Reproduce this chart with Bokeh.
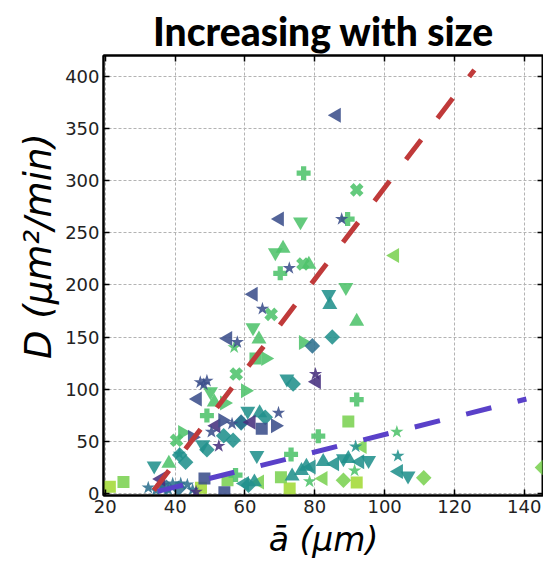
import math
from bokeh.plotting import figure
from bokeh.models import Range1d, LinearAxis, SingleIntervalTicker
from bokeh.embed import file_html
from bokeh.resources import INLINE

# ---------------- data ----------------
x_ticks_interval = 20
y_ticks_interval = 50

# dark blue
db_star_x = [87.7, 72.7, 65.0, 57.8, 47.2, 49.1, 48.2, 50.4, 56.3, 69.6]
db_star_y = [263, 216, 177, 145, 106.6, 108, 104.5, 59, 66.8, 77.3]
db_left_x = [86.2, 69.9, 62.4, 55.1, 46.4]
db_left_y = [362.6, 263, 191, 148.5, 90.6]
db_right_x = [53.6, 68.7, 44.9]
db_right_y = [70, 65, 54]
db_square_x = [64.8, 48.4, 54.1]
db_square_y = [62, 14.3, 1.2]

# purple
pu_star_x = [80.2, 52.5, 46.0]
pu_star_y = [114.5, 45.5, 1.6]
pu_left_x = [80.5, 51.7, 61.8, 35.9]
pu_left_y = [107, 65, 68.4, 14]

# dark teal
dt_diamond_x = [79.3, 58.9, 37.5, 41.0]
dt_diamond_y = [141.5, 68.4, 6, 5]
dt_star_x = [32.3, 34.5, 36.4, 38.0, 39.3, 41.6, 43.5, 45.0]
dt_star_y = [5.5, 3, 8, 4, 9.5, 9.5, 8.5, 3.5]

# teal
te_down_x = [84.0, 60.8, 47.9, 34.0, 63.4, 106.7, 95.4, 88.2, 72.0]
te_down_y = [191, 79, 46.8, 26.5, 36.5, 17, 31.8, 33.4, 110]
te_up_x = [84.3, 64.2, 89.6, 82.4, 73.5, 62.7, 77.6, 76.2]
te_up_y = [181, 77.3, 33.4, 30.5, 16.7, 11, 26, 22]
te_left_x = [104.0, 92.9, 85.7, 79.0, 59.9]
te_left_y = [21, 30.5, 28.6, 25.5, 9.5]
te_diamond_x = [85.0, 65.8, 53.9, 56.6, 49.1, 43.0, 41.3, 73.8, 58.9, 61.0]
te_diamond_y = [150, 73, 55.4, 51, 42, 30, 37, 105, 67.7, 8]
te_star_x = [91.7, 103.8, 41.2]
te_star_y = [45, 36, 38]

# green
gr_plus_x = [76.8, 89.4, 70.1, 49.1, 92.0, 81.0, 73.2, 57.3]
gr_plus_y = [307, 263, 211, 74.7, 90, 55, 37.5, 17.7]
gr_x_x = [92.0, 76.6, 67.5, 57.5, 40.4]
gr_x_y = [291, 220, 171.7, 114.5, 51]
gr_down_x = [75.9, 68.7, 88.9, 62.3, 50.1]
gr_down_y = [260.5, 231, 197.5, 159, 97.6]
gr_up_x = [70.9, 78.3, 92.0, 64.0, 51.2, 38.2]
gr_up_y = [235, 219.5, 165, 148, 87.5, 28.8]
gr_right_x = [76.7, 65.9, 60.1, 54.1, 42.1]
gr_right_y = [144.7, 129.5, 98.6, 86.8, 58.5]
gr_star_x = [56.9, 103.5, 91.4, 78.5]
gr_star_y = [140, 59, 22, 11.5]
gr_square_x = [63.0]
gr_square_y = [129.5]

# light green
lg_left_x = [102.9, 93.6, 82.4, 64.2]
lg_left_y = [228, 45, 14.3, 11]
lg_diamond_x = [111.2, 145.2, 88.2]
lg_diamond_y = [15, 25, 12.7]
lg_square_x = [89.6, 70.3, 55.0, 25.2]
lg_square_y = [69, 15.5, 12.7, 11]

# yellow green
yg_square_x = [21.3, 72.8, 92.0, 47.4]
yg_square_y = [6.4, 4.8, 10.5, 5.5]

# fit lines
fit_red_x = [33.9, 125.7]
fit_red_y = [3, 406]
fit_blue_x = [35.0, 140.6]
fit_blue_y = [2, 90.6]

# ---------------- style ----------------
C_DB = "#3b4f8b"
C_PU = "#47307e"
C_DT = "#2c6f8e"
C_TE = "#21918c"
C_GR = "#4ec36b"
C_LG = "#7bd152"
C_YG = "#a3da37"

p = figure(width=543, height=561, output_backend="svg", toolbar_location=None,
           x_range=Range1d(19.48, 145.5), y_range=Range1d(-1.9, 419.8),
           min_border_left=103, min_border_right=0, min_border_top=55,
           min_border_bottom=64)

p.title.text = "Increasing with size"
p.title.text_font = "Lato Black"
p.title.text_font_style = "bold"
p.title.text_font_size = "39px"
p.title.align = "center"
p.title.text_line_height = 0.8
p.title.text_color = "black"
p.title.standoff = 4
p.title.offset = 0

p.outline_line_color = "black"
p.outline_line_width = 2

xt = SingleIntervalTicker(interval=x_ticks_interval)
yt = SingleIntervalTicker(interval=y_ticks_interval)
bottom_axis = p.below[0]
left_axis = p.left[0]
bottom_axis.ticker = xt
left_axis.ticker = yt
p.xgrid.ticker = xt
p.ygrid.ticker = yt

right_axis = LinearAxis(ticker=yt)
top_axis = LinearAxis(ticker=xt)
p.add_layout(right_axis, "right")
p.add_layout(top_axis, "above")

for ax in (bottom_axis, left_axis, right_axis, top_axis):
    ax.major_tick_in = 6
    ax.major_tick_out = 0
    ax.minor_tick_in = 0
    ax.minor_tick_out = 0
    ax.major_tick_line_width = 1.5
    ax.major_tick_line_color = "black"
    ax.axis_line_color = "black"
    ax.axis_line_width = 2
    ax.major_label_text_font = "DejaVu Sans"
    ax.major_label_text_font_size = "18px"
    ax.major_label_text_color = "#222222"
    ax.major_label_standoff = 4

for ax in (right_axis, top_axis):
    ax.major_label_text_font_size = "1px"
    ax.major_label_text_color = None
    ax.major_label_standoff = 0

bottom_axis.axis_label = "ā (μm)"
left_axis.axis_label = "\u00a0\u00a0\u00a0\u00a0\u00a0D (μm²/min)"
for ax in (bottom_axis, left_axis):
    ax.axis_label_text_font = "DejaVu Sans"
    ax.axis_label_text_font_style = "italic"
    ax.axis_label_text_color = "black"
bottom_axis.axis_label_text_font_size = "33px"
bottom_axis.axis_label_standoff = 4
left_axis.axis_label_text_font_size = "37px"
left_axis.axis_label_standoff = 2

for g in (p.xgrid, p.ygrid):
    g.grid_line_color = "#b3b3b3"
    g.grid_line_dash = "3 2"
    g.grid_line_width = 1

ALPHA = 0.88
R90 = math.pi / 2
R45 = math.pi / 4

def draw(xs, ys, marker, color, size, angle=0.0):
    p.scatter(xs, ys, marker=marker, size=size, angle=angle,
              fill_color=color, fill_alpha=ALPHA, line_color=None)

TRI = 15
draw(yg_square_x, yg_square_y, "square", C_YG, 12)
draw(lg_square_x, lg_square_y, "square", C_LG, 12)
draw(lg_diamond_x, lg_diamond_y, "square", C_LG, 11, R45)
draw(lg_left_x, lg_left_y, "triangle", C_LG, TRI, R90)
draw(gr_square_x, gr_square_y, "square", C_GR, 12)
draw(gr_star_x, gr_star_y, "star", C_GR, 14)
draw(gr_right_x, gr_right_y, "triangle", C_GR, TRI, -R90)
draw(gr_up_x, gr_up_y, "triangle", C_GR, TRI)
draw(gr_down_x, gr_down_y, "inverted_triangle", C_GR, TRI)
draw(gr_x_x, gr_x_y, "plus", C_GR, 14, R45)
draw(gr_plus_x, gr_plus_y, "plus", C_GR, 14)
draw(te_star_x, te_star_y, "star", C_TE, 14)
draw(te_diamond_x, te_diamond_y, "square", C_TE, 11, R45)
draw(te_left_x, te_left_y, "triangle", C_TE, TRI, R90)
draw(te_up_x, te_up_y, "triangle", C_TE, TRI)
draw(te_down_x, te_down_y, "inverted_triangle", C_TE, TRI)
draw(dt_star_x, dt_star_y, "star", C_DT, 14)
draw(dt_diamond_x, dt_diamond_y, "square", C_DT, 11, R45)
draw(pu_left_x, pu_left_y, "triangle", C_PU, TRI, R90)
draw(pu_star_x, pu_star_y, "star", C_PU, 14)
draw(db_square_x, db_square_y, "square", C_DB, 12)
draw(db_right_x, db_right_y, "triangle", C_DB, TRI, -R90)
draw(db_left_x, db_left_y, "triangle", C_DB, TRI, R90)
draw(db_star_x, db_star_y, "star", C_DB, 14)

p.line(fit_red_x, fit_red_y, line_color="#c03a3a", line_width=5, line_dash="25 27")
p.line(fit_blue_x, fit_blue_y, line_color="#5a41c9", line_width=5, line_dash="26 27")

open("out.html", "w").write(file_html(p, INLINE))
